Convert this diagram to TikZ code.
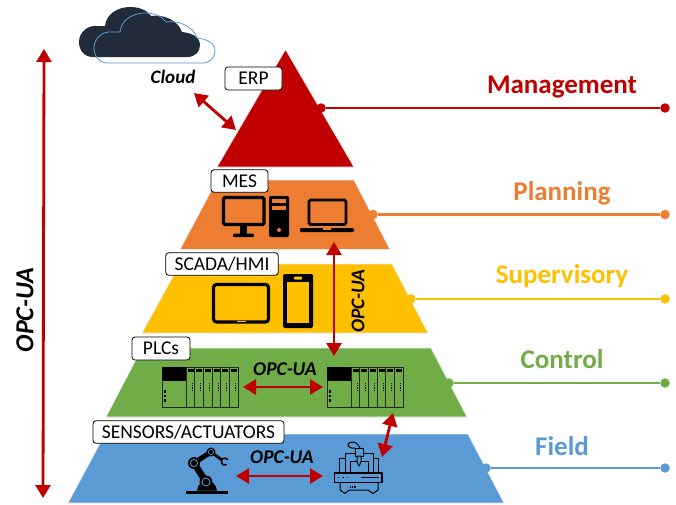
\documentclass[tikz,border=0pt]{standalone}
\usepackage{fontspec}
\setmainfont{Carlito}
\usetikzlibrary{arrows.meta}
\definecolor{cred}{HTML}{C00000}
\definecolor{corange}{HTML}{ED7D31}
\definecolor{cyellow}{HTML}{FFC000}
\definecolor{cgreen}{HTML}{70AD47}
\definecolor{cblue}{HTML}{5B9BD5}
\definecolor{cdark}{HTML}{222B39}
\newcommand{\cloudpath}{(93,57) .. controls (84,57) and (79,50) .. (79,42) .. controls (79,32) and (88,25) .. (97,26) -- (105,26) .. controls (106,14) and (118,7) .. (130,7) .. controls (139,7) and (147,10) .. (151,16) .. controls (163,14) and (178,20) .. (182,32) .. controls (192,33) and (200,37) .. (200,45) .. controls (200,52) and (195,57) .. (187,57) -- cycle}
\newcommand{\plcunit}[1]{%
\begin{scope}[xshift=#1pt]
\draw[plcline] (162,367) rectangle (238,407);
\fill[black] (162,367) rectangle (186,381);
\foreach \k in {0,...,5}{
\draw[plcline] ({186+8.7*\k},367) -- ({186+8.7*\k},407);
\fill[black] ({187.5+8.7*\k},369) rectangle ({193.5+8.7*\k},372);
\foreach \j in {0,1,2,3}{\fill[black] ({191.5+8.7*\k},{383+2.2*\j}) rectangle ++(1,1.2);}
}
\foreach \j in {0,1,2}{\fill[black] (163.5,{390+4.6*\j}) rectangle ++(2,2.8);}
\end{scope}}
\tikzset{
 x=1pt,y=-1pt,
 level/.style={fill=#1,draw=black!8,line width=.7pt},
 tag/.style={draw=black,fill=white,rounded corners=3pt,line width=.8pt,inner sep=0pt,font=\fontsize{19.5}{22}\selectfont,anchor=center},
 head/.style={font=\fontsize{27}{30}\selectfont\bfseries,text=#1,inner sep=0pt},
 lead/.style={draw=#1,line width=2.8pt},
 dotn/.style={circle,fill=#1,draw=none,minimum size=9.5pt,inner sep=0pt},
 link/.style={draw=cred,line width=2.8pt,{Triangle[width=15pt,length=13pt]}-{Triangle[width=15pt,length=13pt]}},
 opc/.style={font=\fontsize{19.5}{22}\selectfont\bfseries\itshape,inner sep=0pt},
 plcline/.style={draw=black!85,line width=.8pt},
 ico/.style={draw=black,line width=3.2pt,rounded corners=1.5pt},
 cnc/.style={draw=black,line width=1pt,line join=round},
}
\begin{document}
\begin{tikzpicture}
\useasboundingbox (0,0) rectangle (676,504);
% pyramid levels
\draw[level=cred] (285.5,49.5) -- (354,167) -- (217,167) -- cycle;
\draw[level=corange] (217,180) -- (354,180) -- (390,249.5) -- (180,249.5) -- cycle;
\draw[level=cyellow] (180,264) -- (392,264) -- (428,333) -- (142,333) -- cycle;
\draw[level=cgreen] (142,348) -- (431,348) -- (467,417) -- (106,417) -- cycle;
\draw[level=cblue] (105,434) -- (468,434) -- (504,503) -- (68,503) -- cycle;
% right-hand dots and leaders
\node[dotn=cred] (dm0) at (321,108) {}; \node[dotn=cred] (dm1) at (665,108) {};
\node[dotn=corange] (dp0) at (373,214.5) {}; \node[dotn=corange] (dp1) at (665,214.5) {};
\node[dotn=cyellow] (ds0) at (411,299) {}; \node[dotn=cyellow] (ds1) at (665,299) {};
\node[dotn=cgreen] (dc0) at (449,383) {}; \node[dotn=cgreen] (dc1) at (665,383) {};
\node[dotn=cblue] (df0) at (486,468) {}; \node[dotn=cblue] (df1) at (665,468) {};
\draw[lead=cred] (dm0) -- (dm1);
\draw[lead=corange] (dp0) -- (dp1);
\draw[lead=cyellow] (ds0) -- (ds1);
\draw[lead=cgreen] (dc0) -- (dc1);
\draw[lead=cblue] (df0) -- (df1);
% headings
\node[head=cred] (hm) at (562,87) {Management};
\node[head=corange] (hp) at (562,193.5) {Planning};
\node[head=cyellow] (hs) at (562,276.5) {Supervisory};
\node[head=cgreen] (hc) at (562,359.5) {Control};
\node[head=cblue] (hf) at (562,446.5) {Field};
% cloud
\fill[cdark] \cloudpath;
\draw[cblue,line width=.8pt,shift={(15,6)}] \cloudpath;
\node[font=\fontsize{19}{21}\selectfont\bfseries\itshape,inner sep=0pt] (cl) at (173,77) {Cloud};
% tags
\node[tag,minimum width=57pt,minimum height=23pt] (erp) at (253.5,78.5) {ERP};
\node[tag,minimum width=57pt,minimum height=22.5pt] (mes) at (239.5,181) {MES};
\node[tag,minimum width=112.5pt,minimum height=22.5pt] (scada) at (222,264) {SCADA/HMI};
\node[tag,minimum width=58pt,minimum height=23pt] (plcs) at (161,348.5) {PLCs};
\node[tag,minimum width=191pt,minimum height=22.5pt] (sens) at (188.5,432) {SENSORS/ACTUATORS};
% monitor
\draw[ico] (223.5,197.5) rectangle (264,224.5);
\fill[black] (240,225) rectangle (247,234);
\fill[black,rounded corners=1pt] (233,233.5) rectangle (254,237);
% tower
\fill[black,rounded corners=2pt] (269,196) rectangle (289,237);
\fill[corange] (272,199) rectangle (286,203);
\fill[corange] (272,206) rectangle (286,210);
\fill[corange] (279,230) circle (2pt);
% laptop
\draw[ico,line width=2.6pt] (309,200) rectangle (346,224.5);
\fill[black,rounded corners=1.2pt] (300,228) rectangle (354,232);
\fill[corange] (323,228) rectangle (331,229.5);
% tablet
\draw[ico,rounded corners=3pt] (213.5,284.5) rectangle (268.5,322);
\fill[black] (241,285) circle (.8pt);
\fill[cyellow] (236.5,320.6) rectangle (245.5,322);
% phone
\fill[black,rounded corners=2pt] (283,274) rectangle (313,328);
\fill[cyellow] (286.5,282) rectangle (309,323);
\fill[cyellow,rounded corners=.8pt] (294,276.5) rectangle (302,279.5);
% PLCs
\plcunit{0}
\plcunit{165}
% robot
\fill[black] (186,490.5) rectangle (228,494);
\fill[black] (197,490.5) .. controls (198,484) and (202,481) .. (207,481) .. controls (212,481) and (216,484) .. (217,490.5) -- cycle;
\draw[black,line width=6.5pt] (194,463) -- (206,482);
\draw[black,line width=5pt] (194,463) -- (211,452);
\draw[black,line width=2.8pt] (211,452) -- (222,460);
\fill[black] (206,482) circle (6.5pt); \draw[cblue,line width=.8pt] (206,482) circle (4pt); \fill[black] (206,482) circle (1.8pt);
\fill[black] (194,463) circle (6pt); \draw[cblue,line width=.8pt] (194,463) circle (3.6pt); \fill[black] (194,463) circle (1.6pt);
\fill[black] (211,452) circle (4.5pt); \draw[cblue,line width=.6pt] (211,452) circle (2.6pt); \fill[black] (211,452) circle (1pt);
\draw[black,line width=1.5pt] (228,459.5) .. controls (224,456.5) and (221,459) .. (221.5,462) .. controls (222,465) and (225,466) .. (227,464.5);
% CNC machine
\draw[cnc,line width=1.2pt] (334.5,473) rectangle (382,482.5);
\draw[cnc] (339,473) -- (339,458.5) -- (345,458.5) -- (345,453.5) -- (373.5,453.5) -- (373.5,458.5) -- (378.5,458.5) -- (378.5,473);
\draw[cnc] (345,458.5) -- (345,473) (373.5,458.5) -- (373.5,473);
\draw[cnc] (350,473) -- (350,461) -- (368,461) -- (368,473);
\draw[cnc,fill=cblue] (355,448.5) rectangle (363,456);
\draw[cnc,fill=cblue] (357,456) -- (361,456) -- (361,462) -- (359,466) -- (357,462) -- cycle;
\draw[cnc] (355,448) .. controls (348,449) and (347,444) .. (349,443) .. controls (352,441) and (358,442) .. (360,448);
\draw[cnc] (340,482.5) -- (340,490) -- (345,493.5) -- (349,490) -- (368,490) -- (373,493.5) -- (378,490) -- (378,482.5);
\fill[black] (337.5,476.5) rectangle ++(1.8,1.8);
\fill[black] (342,476.5) rectangle ++(1.8,1.8);
\fill[black] (346.5,476.5) rectangle ++(1.8,1.8);
\draw[black,line width=1pt] (361,477) -- (379,477);
\foreach \q in {350,352.2,354.4}{\fill[black] (\q,485.5) rectangle ++(1.2,2);}
% connectors
\coordinate (a1) at (44,49); \coordinate (a2) at (43,498);
\draw[link] (a1) -- (a2);
\node[opc,font=\fontsize{26}{28}\selectfont\bfseries\itshape,rotate=90] (ol) at (25,310) {OPC-UA};
\coordinate (b1) at (194,93); \coordinate (b2) at (236,130);
\draw[link] (b1) -- (b2);
\coordinate (c1) at (334,242); \coordinate (c2) at (334,356);
\draw[link] (c1) -- (c2);
\node[opc,rotate=90] (ov) at (358,301) {OPC-UA};
\coordinate (d1) at (243,387); \coordinate (d2) at (323,387);
\draw[link] (d1) -- (d2);
\node[opc] (og) at (285,369) {OPC-UA};
\coordinate (e1) at (236,476); \coordinate (e2) at (323,476);
\draw[link] (e1) -- (e2);
\node[opc] (ob) at (282,457) {OPC-UA};
\coordinate (f1) at (393,413); \coordinate (f2) at (382,457);
\draw[link] (f1) -- (f2);
\end{tikzpicture}
\end{document}
